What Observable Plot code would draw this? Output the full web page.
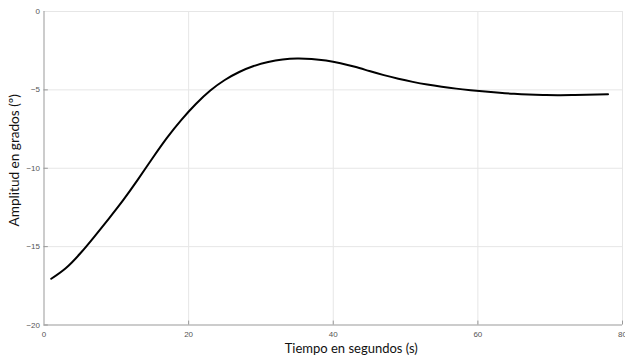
<!DOCTYPE html>
<html>
<head>
<meta charset="utf-8">
<script src="https://cdn.jsdelivr.net/npm/d3@7"></script>
<script src="https://cdn.jsdelivr.net/npm/@observablehq/plot@0.6"></script>
<style>
  html, body { margin: 0; padding: 0; background: #fff; }
  svg { display: block; }
</style>
</head>
<body>
<div id="chart"></div>
<script>
const tiempo = [1, 3, 5, 7, 9, 11, 13, 15, 17, 19, 21, 23, 25, 27, 29, 31, 33, 35, 37, 39, 41, 43, 45, 47, 49, 51, 53, 55, 57, 59, 61, 63, 65, 67, 69, 71, 73, 75, 78];
const amplitud = [-17.05, -16.38, -15.44, -14.34, -13.19, -12.0, -10.71, -9.36, -8.06, -6.91, -5.9, -5.04, -4.37, -3.86, -3.48, -3.22, -3.06, -3.0, -3.03, -3.13, -3.3, -3.53, -3.8, -4.06, -4.29, -4.49, -4.66, -4.8, -4.92, -5.02, -5.11, -5.19, -5.255, -5.3, -5.325, -5.335, -5.33, -5.315, -5.285];
const xTicks = [0, 20, 40, 60, 80];
const yTicks = [0, -5, -10, -15, -20];
const xLabel = "Tiempo en segundos (s)";
const yLabel = "Amplitud en grados (º)";

const data = tiempo.map((t, i) => ({t, a: amplitud[i]}));

const chart = Plot.plot({
  width: 625,
  height: 363,
  marginLeft: 43.5,
  marginRight: 3,
  marginTop: 11,
  marginBottom: 38.5,
  style: {fontFamily: "Liberation Sans, Arial, sans-serif", background: "#fff"},
  x: {domain: [0, 80]},
  y: {domain: [-20, 0]},
  marks: [
    Plot.ruleX(xTicks.slice(1), {stroke: "#e6e6e6", strokeWidth: 1}),
    Plot.ruleY(yTicks.slice(0, -1), {stroke: "#e6e6e6", strokeWidth: 1}),
    Plot.ruleX(xTicks.slice(1), {y1: -20, y2: -19.75, stroke: "#999"}),
    Plot.ruleY(yTicks.slice(1), {x1: 0, x2: 0.6, stroke: "#999"}),
    Plot.ruleX([0], {stroke: "#999"}),
    Plot.ruleY([-20], {stroke: "#999"}),
    Plot.axisX({ticks: xTicks, tickSize: 0, tickPadding: 6, label: null, fontSize: 8, color: "#555"}),
    Plot.axisY({ticks: yTicks, tickSize: 0, tickPadding: 4, label: null, fontSize: 8, color: "#555"}),
    Plot.line(data, {x: "t", y: "a", curve: "natural", stroke: "#000", strokeWidth: 2}),
    Plot.text([xLabel], {frameAnchor: "bottom", textAnchor: "middle", dx: 18, dy: 28, fontSize: 13, fill: "#111", fontFamily: "Lato, sans-serif"}),
    Plot.text([yLabel], {frameAnchor: "left", textAnchor: "middle", rotate: -90, dx: -29, dy: -8, fontSize: 13.6, fill: "#111", fontFamily: "Lato, sans-serif"})
  ]
});
document.getElementById("chart").appendChild(chart);
</script>
</body>
</html>
